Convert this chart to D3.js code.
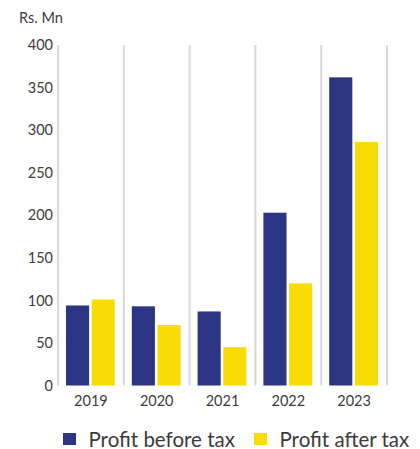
<!DOCTYPE html>
<html>
<head>
<meta charset="utf-8">
<script src="https://cdn.jsdelivr.net/npm/d3@7"></script>
<style>
  html, body { margin: 0; padding: 0; background: #fff; }
  svg { display: block; font-family: Lato, "Open Sans", sans-serif; }
</style>
</head>
<body>
<svg id="chart" width="420" height="449"></svg>
<script>
// Profit figures, Rs. Mn
const years = ["2019", "2020", "2021", "2022", "2023"];
const profitBeforeTax = [94, 93, 87, 203, 362];
const profitAfterTax = [101, 71, 45, 120, 286];
const seriesNames = ["Profit before tax", "Profit after tax"];
const yTicks = [0, 50, 100, 150, 200, 250, 300, 350, 400];

const colors = ["#2c3584", "#f9dc05"];
const textColor = "#3b3b3b";

const svg = d3.select("#chart");
const plotLeft = 58, plotRight = 387, plotTop = 45, plotBottom = 385.5;

const x = d3.scaleBand().domain(years).range([plotLeft, plotRight]).paddingInner(0).paddingOuter(0);
const inner = d3.scaleBand().domain(seriesNames).range([8, x.bandwidth() - 9]).paddingInner(0.1);
const y = d3.scaleLinear().domain([0, 400]).range([plotBottom, plotTop]);

// Unit label
svg.append("text")
  .attr("x", 19).attr("y", 23)
  .attr("font-size", 14.5).attr("fill", textColor)
  .text("Rs. Mn");

// Vertical separators between year groups
const seps = years.map(d => x(d)).concat([x(years[years.length - 1]) + x.bandwidth()]);
svg.append("g").selectAll("line").data(seps).join("line")
  .attr("x1", d => d).attr("x2", d => d)
  .attr("y1", plotTop).attr("y2", plotBottom)
  .attr("stroke", "#d9d9d9").attr("stroke-width", 2);

// Y axis labels
const yAxis = d3.axisLeft(y).tickValues(yTicks).tickSize(0).tickPadding(5);
const gy = svg.append("g").attr("transform", `translate(${plotLeft},0)`).call(yAxis);
gy.select(".domain").remove();
gy.selectAll("text").attr("font-size", 14.5).attr("fill", textColor)
  .attr("font-family", "Lato, 'Open Sans', sans-serif");

// X axis labels
const xAxis = d3.axisBottom(x).tickSize(0).tickPadding(10);
const gx = svg.append("g").attr("transform", `translate(0,${plotBottom})`).call(xAxis);
gx.select(".domain").remove();
gx.selectAll("text").attr("font-size", 14.5).attr("fill", textColor)
  .attr("font-family", "Lato, 'Open Sans', sans-serif");

// Bars
const rows = years.map((yr, i) => ({ year: yr, values: [profitBeforeTax[i], profitAfterTax[i]] }));
const groups = svg.append("g").selectAll("g").data(rows).join("g")
  .attr("transform", d => `translate(${x(d.year)},0)`);
groups.selectAll("rect")
  .data(d => d.values.map((v, k) => ({ name: seriesNames[k], value: v, k })))
  .join("rect")
  .attr("x", d => inner(d.name))
  .attr("width", inner.bandwidth())
  .attr("y", d => y(d.value))
  .attr("height", d => y(0) - y(d.value))
  .attr("fill", d => colors[d.k]);

// Legend
const legendItems = [
  { name: seriesNames[0], color: colors[0], x: 63 },
  { name: seriesNames[1], color: colors[1], x: 254 }
];
const lg = svg.append("g").selectAll("g").data(legendItems).join("g")
  .attr("transform", d => `translate(${d.x},433)`);
lg.append("rect").attr("width", 13).attr("height", 12).attr("fill", d => d.color);
lg.append("text").attr("x", 25.5).attr("y", 13.5)
  .attr("font-size", 20.5).attr("fill", textColor)
  .text(d => d.name);
</script>
</body>
</html>
